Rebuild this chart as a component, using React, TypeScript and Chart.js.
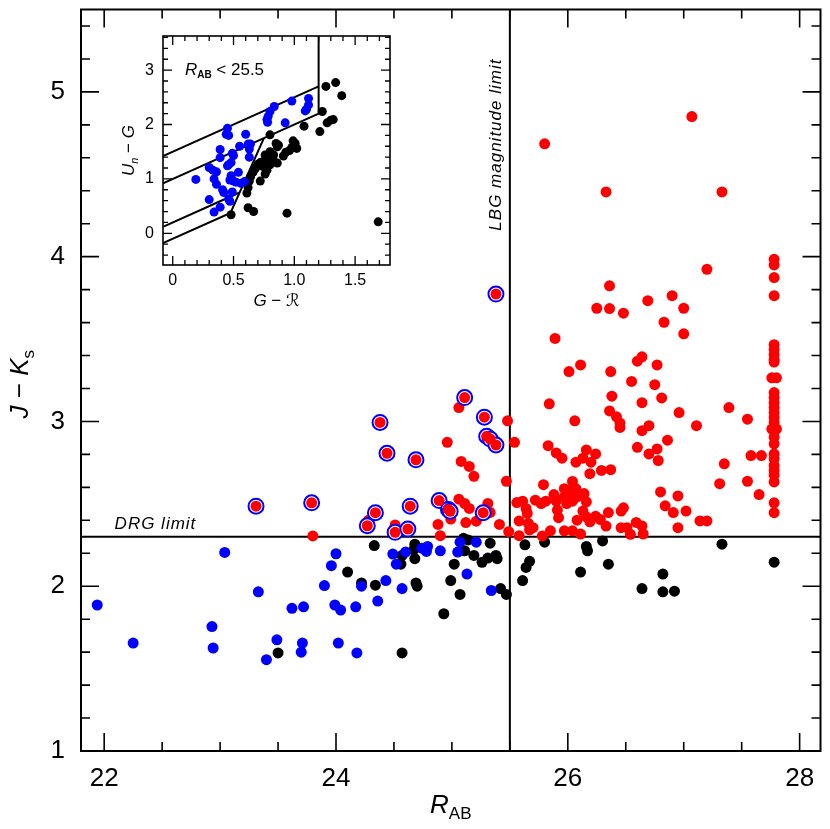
import React, { useEffect, useRef } from 'react';
import { Chart, registerables } from 'chart.js';

Chart.register(...registerables);

const FONT = '"Liberation Sans", Arial, "DejaVu Sans", sans-serif';

// ===== main panel =====
const xTickValues = [22, 24, 26, 28];
const yTickValues = [1, 2, 3, 4, 5];
const drgLimit = 2.3;
const lbgLimit = 25.5;

const blackPoints: [number, number][] = [
  [23.50, 1.595], [24.10, 2.086], [25.10, 2.291], [25.14, 2.281], [25.33, 2.261], [24.33, 2.247],
  [24.68, 2.255], [24.67, 2.221], [24.68, 2.167], [24.57, 2.187], [24.56, 2.134], [25.11, 2.215],
  [25.19, 2.187], [25.26, 2.145], [25.31, 2.171], [25.38, 2.187], [25.39, 2.167], [25.02, 2.134],
  [25.63, 2.251], [25.67, 2.151], [25.64, 2.114], [25.61, 2.034], [24.22, 2.02], [24.34, 2.006],
  [24.69, 2.02], [24.70, 2.00], [24.99, 2.034], [25.07, 1.95], [25.42, 1.986], [25.47, 1.95],
  [24.93, 1.833], [24.57, 1.595], [25.80, 2.267], [26.16, 2.241], [26.17, 2.215], [26.30, 2.275],
  [26.11, 2.086], [26.35, 2.134], [26.82, 2.074], [27.33, 2.255], [27.78, 2.146], [26.64, 1.986],
  [26.82, 1.966], [26.92, 1.97],
];

const bluePoints: [number, number][] = [
  [21.94, 1.886], [22.25, 1.655], [22.93, 1.755], [22.94, 1.625], [23.04, 2.205], [23.33, 1.966],
  [23.40, 1.554], [23.49, 1.675], [23.62, 1.866], [23.72, 1.875], [23.71, 1.655], [23.70, 1.60],
  [23.90, 2.004], [23.96, 2.125], [24.00, 2.197], [23.99, 1.886], [24.04, 1.855], [24.02, 1.655],
  [24.17, 1.875], [24.18, 1.595], [24.49, 2.195], [24.52, 2.134], [24.60, 2.207], [24.74, 2.231],
  [24.79, 2.241], [24.78, 2.211], [24.90, 2.215], [25.05, 2.207], [25.07, 2.267], [25.21, 2.267],
  [25.13, 2.074], [24.43, 2.034], [24.22, 2.00], [24.57, 1.986], [24.36, 1.91], [25.34, 1.974],
];

const redPoints: [number, number][] = [
  [23.80, 2.305], [24.28, 2.40], [24.51, 2.372],
  [25.06, 3.084], [25.48, 3.004], [25.54, 2.873], [24.96, 2.873], [25.08, 2.757], [25.15, 2.727],
  [25.19, 2.667], [25.47, 2.637], [25.06, 2.528], [25.11, 2.502], [25.15, 2.472], [25.31, 2.502],
  [25.33, 2.448], [25.21, 2.395], [25.12, 2.386], [24.99, 2.408], [24.88, 2.375], [24.90, 2.307],
  [25.41, 2.375], [25.49, 2.331], [25.58, 2.307], [25.56, 2.508], [25.61, 2.516], [25.64, 2.472],
  [25.65, 2.442], [25.58, 2.396], [25.66, 2.381], [25.70, 2.355], [25.72, 2.522],
  [25.80, 4.685], [27.07, 4.85], [26.33, 4.393], [27.33, 4.393], [27.20, 3.923], [26.36, 3.823],
  [26.90, 3.763], [26.69, 3.733], [26.25, 3.687], [26.36, 3.685], [26.48, 3.657], [27.00, 3.687],
  [26.83, 3.602], [27.00, 3.532], [25.89, 3.504], [26.11, 3.343], [26.01, 3.303], [26.37, 3.303],
  [26.60, 3.366], [26.64, 3.392], [26.77, 3.343], [26.55, 3.243], [26.75, 3.223], [26.38, 3.153],
  [26.81, 3.143], [25.84, 3.107], [26.64, 3.114], [26.36, 3.064], [26.42, 3.028], [26.45, 2.99],
  [26.45, 2.964], [26.96, 3.054], [26.06, 3.004], [26.70, 2.974], [26.64, 2.944], [27.11, 2.974],
  [27.39, 3.084], [27.55, 3.014], [26.86, 2.886], [25.83, 2.853], [25.90, 2.809], [25.95, 2.777],
  [26.16, 2.827], [26.24, 2.803], [26.20, 2.753], [26.07, 2.753], [26.13, 2.777], [26.19, 2.683],
  [26.29, 2.703], [26.37, 2.707], [26.60, 2.843], [26.70, 2.803], [26.77, 2.833], [26.78, 2.763],
  [27.35, 2.743], [27.58, 2.793], [27.67, 2.793], [27.31, 2.622], [27.55, 2.637], [27.65, 2.556],
  [25.67, 2.342], [25.78, 2.305], [25.77, 2.502], [25.81, 2.516], [25.79, 2.616], [25.85, 2.336],
  [25.88, 2.556], [25.90, 2.516], [25.91, 2.462], [25.92, 2.416], [25.97, 2.592], [26.04, 2.636],
  [25.97, 2.542], [25.99, 2.502], [26.03, 2.562], [26.07, 2.592], [26.08, 2.542], [26.04, 2.516],
  [26.14, 2.562], [26.16, 2.512], [25.97, 2.336], [26.04, 2.336], [26.11, 2.317], [26.08, 2.401],
  [26.13, 2.456], [26.16, 2.421], [26.19, 2.391], [26.24, 2.425], [26.28, 2.405], [26.33, 2.365],
  [26.35, 2.447], [26.46, 2.456], [26.48, 2.476], [26.46, 2.355], [26.51, 2.355], [26.54, 2.315],
  [26.59, 2.387], [26.64, 2.365], [26.65, 2.317], [26.80, 2.572], [26.84, 2.488], [26.91, 2.447],
  [26.95, 2.548], [27.02, 2.456], [26.95, 2.355], [27.14, 2.396], [27.20, 2.396],
  [26.00, 2.58], [26.02, 2.53], [26.05, 2.60],
];

// the column of faint objects at R_AB = 27.8
const columnRedPoints: [number, number][] = [
  [27.78, 3.984], [27.78, 3.95], [27.78, 3.873], [27.78, 3.763], [27.78, 3.466], [27.78, 3.436],
  [27.78, 3.406], [27.78, 3.376], [27.78, 3.36], [27.76, 3.265], [27.80, 3.265], [27.78, 3.175],
  [27.78, 3.145], [27.78, 3.114], [27.78, 3.084], [27.78, 3.054], [27.78, 3.024], [27.78, 2.994],
  [27.76, 2.954], [27.80, 2.954], [27.78, 2.904], [27.78, 2.864], [27.78, 2.803], [27.78, 2.773],
  [27.78, 2.733], [27.78, 2.703], [27.78, 2.673], [27.78, 2.633], [27.78, 2.506], [27.78, 2.446],
];

// red objects that also satisfy the LBG colour criteria (ringed in blue)
const circledPoints: [number, number][] = [
  [23.31, 2.486], [23.79, 2.506], [25.11, 3.145], [25.28, 3.026], [24.38, 2.994], [25.30, 2.91],
  [25.33, 2.893], [25.38, 2.857], [24.44, 2.807], [24.69, 2.767], [24.89, 2.52], [24.97, 2.466],
  [24.985, 2.455], [25.27, 2.446], [24.64, 2.486], [24.34, 2.446], [24.27, 2.367], [24.51, 2.327],
  [24.62, 2.347], [25.38, 3.773],
];

// ===== inset panel =====
const insetXTicks = [0, 0.5, 1, 1.5];
const insetYTicks = [0, 1, 2, 3];

const insetBlue: [number, number][] = [
  [0.835, 2.33], [0.80, 2.24], [0.785, 2.15], [0.775, 2.09], [0.78, 2.04], [0.45, 1.93], [0.44, 1.82],
  [0.46, 1.80], [0.60, 1.82], [0.55, 1.60], [0.62, 1.64], [0.64, 1.64], [0.63, 1.55], [0.39, 1.54],
  [0.63, 1.40], [0.39, 1.39], [0.49, 1.47], [0.50, 1.43], [0.48, 1.30], [0.46, 1.26], [0.45, 1.24],
  [0.30, 1.21], [0.33, 1.16], [0.36, 1.13], [0.19, 0.99], [0.34, 1.00], [0.36, 0.90], [0.48, 1.06],
  [0.47, 0.98], [0.50, 0.96], [0.52, 0.94], [0.56, 0.92], [0.59, 0.95], [0.54, 1.12], [0.41, 0.80],
  [0.42, 0.75], [0.49, 0.76], [0.30, 0.62], [0.46, 0.63], [0.47, 0.59], [0.39, 0.48], [0.34, 0.39],
  [0.98, 2.43], [1.117, 2.48], [1.117, 2.36], [1.10, 2.28], [1.09, 2.25], [0.925, 2.03],
];

const insetBlack: [number, number][] = [
  [0.80, 1.81], [0.85, 1.65], [0.87, 1.62], [0.86, 1.59], [0.80, 1.50], [0.83, 1.44], [0.76, 1.44],
  [0.78, 1.37], [0.75, 1.33], [0.72, 1.30], [0.70, 1.27], [0.68, 1.19], [0.66, 1.12], [0.64, 1.04],
  [0.63, 0.96], [0.72, 0.96], [0.62, 0.84], [0.61, 0.74], [0.80, 1.26], [0.86, 1.29], [0.83, 1.33],
  [0.74, 1.23], [0.775, 1.16], [0.76, 1.09], [0.62, 0.47], [0.665, 0.40], [0.48, 0.34], [1.26, 2.70],
  [1.34, 2.77], [1.39, 2.53], [1.23, 2.24], [1.21, 1.87], [1.27, 2.03], [1.30, 2.08], [1.32, 2.09],
  [1.08, 1.97], [0.99, 1.70], [1.007, 1.65], [1.02, 1.56], [0.98, 1.58], [0.96, 1.52], [0.93, 1.49],
  [0.91, 1.42], [0.94, 0.37], [1.69, 0.21],
];

// colour-selection boundaries (G-R, Un-G vertices)
const lbgUpperLine: [number, number][] = [[-0.08, 1.42], [1.2, 2.7]];
const lbgLowerLine: [number, number][] = [[-0.08, 0.92], [1.2, 2.2], [1.2, 3.627]];
const bxLine: [number, number][] = [[-0.08, 0.12], [0.55, 0.75]];
const bmLine: [number, number][] = [[-0.08, -0.18], [0.475, 0.375], [0.75, 1.75]];

const toXY = (arr: [number, number][]) => arr.map(([x, y]) => ({ x, y }));

type Part = { t: string; font: string; dy?: number };
function richWidth(ctx: CanvasRenderingContext2D, parts: Part[]) {
  let w = 0;
  for (const p of parts) {
    ctx.font = p.font;
    w += ctx.measureText(p.t).width;
  }
  return w;
}
function drawRich(ctx: CanvasRenderingContext2D, parts: Part[], x: number, y: number, align: 'left' | 'center') {
  ctx.textAlign = 'left';
  ctx.textBaseline = 'alphabetic';
  let cx = align === 'center' ? x - richWidth(ctx, parts) / 2 : x;
  for (const p of parts) {
    ctx.font = p.font;
    ctx.fillText(p.t, cx, y + (p.dy || 0));
    cx += ctx.measureText(p.t).width;
  }
}

function drawTicks(
  ctx: CanvasRenderingContext2D, chart: any,
  xk: [number, number, number, number], yk: [number, number, number, number],
  majorLen: number, minorLen: number,
) {
  const a = chart.chartArea;
  const { x, y } = chart.scales;
  ctx.beginPath();
  // [kFrom, kTo, divisor, majorEvery]
  for (let k = xk[0]; k <= xk[1]; k++) {
    const px = x.getPixelForValue(k / xk[2]);
    const len = k % xk[3] === 0 ? majorLen : minorLen;
    ctx.moveTo(px, a.bottom); ctx.lineTo(px, a.bottom - len);
    ctx.moveTo(px, a.top); ctx.lineTo(px, a.top + len);
  }
  for (let k = yk[0]; k <= yk[1]; k++) {
    const py = y.getPixelForValue(k / yk[2]);
    const len = k % yk[3] === 0 ? majorLen : minorLen;
    ctx.moveTo(a.left, py); ctx.lineTo(a.left + len, py);
    ctx.moveTo(a.right, py); ctx.lineTo(a.right - len, py);
  }
  ctx.stroke();
}

const mainDecor = {
  id: 'mainDecor',
  afterDraw(chart: any) {
    const { ctx, chartArea: a, scales } = chart;
    const { x, y } = scales;
    ctx.save();
    ctx.strokeStyle = '#000';
    ctx.fillStyle = '#000';
    ctx.lineWidth = 2;
    ctx.strokeRect(a.left, a.top, a.right - a.left, a.bottom - a.top);
    ctx.lineWidth = 1.6;
    drawTicks(ctx, chart, [44, 56, 2, 4], [5, 27, 5, 5], 18, 9);

    // DRG limit label
    (ctx as any).letterSpacing = '1px';
    drawRich(ctx, [{ t: 'DRG limit', font: `italic 17px ${FONT}` }], x.getPixelForValue(22.09), y.getPixelForValue(drgLimit) - 8, 'left');

    // LBG magnitude limit (vertical)
    ctx.save();
    ctx.translate(x.getPixelForValue(lbgLimit) - 9, y.getPixelForValue(4.68));
    ctx.rotate(-Math.PI / 2);
    (ctx as any).letterSpacing = '1px';
    drawRich(ctx, [{ t: 'LBG magnitude limit', font: `italic 17px ${FONT}` }], 0, 0, 'center');
    ctx.restore();

    // axis titles
    (ctx as any).letterSpacing = '0px';
    drawRich(ctx, [
      { t: 'R', font: `italic 26px ${FONT}` },
      { t: 'AB', font: `17px ${FONT}`, dy: 6 },
    ], (a.left + a.right) / 2, 813, 'center');

    ctx.save();
    ctx.translate(28, (a.top + a.bottom) / 2 + 4);
    ctx.rotate(-Math.PI / 2);
    drawRich(ctx, [
      { t: 'J', font: `italic 26px ${FONT}` },
      { t: ' \u2212 ', font: `26px ${FONT}` },
      { t: 'K', font: `italic 26px ${FONT}` },
      { t: 's', font: `17px ${FONT}`, dy: 6 },
    ], 0, 0, 'center');
    ctx.restore();
    ctx.restore();
  },
};

const insetDecor = {
  id: 'insetDecor',
  afterDraw(chart: any) {
    const { ctx, chartArea: a, scales } = chart;
    const { x, y } = scales;
    ctx.save();
    ctx.strokeStyle = '#000';
    ctx.fillStyle = '#000';
    ctx.lineWidth = 1.6;
    ctx.strokeRect(a.left, a.top, a.right - a.left, a.bottom - a.top);
    ctx.lineWidth = 1.3;
    drawTicks(ctx, chart, [0, 17, 10, 5], [-2, 18, 5, 5], 9, 5);

    drawRich(ctx, [
      { t: 'R', font: `italic 17px ${FONT}` },
      { t: 'AB', font: `bold 10px ${FONT}`, dy: 3 },
      { t: ' < 25.5', font: `17px ${FONT}` },
    ], x.getPixelForValue(0.1), y.getPixelForValue(2.91), 'left');

    drawRich(ctx, [
      { t: 'G', font: `italic 17px ${FONT}` },
      { t: ' \u2212 ', font: `17px ${FONT}` },
      { t: '\u211B', font: `italic 17px ${FONT}` },
    ], (a.left + a.right) / 2, 286, 'center');

    ctx.save();
    ctx.translate(a.left - 29, (a.top + a.bottom) / 2);
    ctx.rotate(-Math.PI / 2);
    drawRich(ctx, [
      { t: 'U', font: `italic 17px ${FONT}` },
      { t: 'n', font: `italic 11px ${FONT}`, dy: 4 },
      { t: ' \u2212 ', font: `17px ${FONT}` },
      { t: 'G', font: `italic 17px ${FONT}` },
    ], 0, 0, 'center');
    ctx.restore();
    ctx.restore();
  },
};

const lineDs = (pts: [number, number][], width: number) => ({
  data: toXY(pts),
  showLine: true,
  borderColor: '#000',
  borderWidth: width,
  pointRadius: 0,
  fill: false,
});

const dotDs = (pts: [number, number][], color: string, r: number) => ({
  data: toXY(pts),
  backgroundColor: color,
  borderWidth: 0,
  pointRadius: r,
  pointHoverRadius: r,
});

const noPadX = (h: number) => (s: any) => {
  s.height = h;
  s.paddingLeft = 0; s.paddingRight = 0; s.paddingTop = 0; s.paddingBottom = 0;
};
const noPadY = (w: number) => (s: any) => {
  s.width = w;
  s.paddingLeft = 0; s.paddingRight = 0; s.paddingTop = 0; s.paddingBottom = 0;
};

export default function App() {
  const mainRef = useRef<HTMLCanvasElement>(null);
  const insetRef = useRef<HTMLCanvasElement>(null);

  useEffect(() => {
    document.body.style.margin = '0';
    const tickFont = { family: FONT, size: 26 };
    const main = new Chart(mainRef.current!, {
      type: 'scatter',
      data: {
        datasets: [
          dotDs(circledPoints, '#ff0000', 5.5),
          {
            data: toXY(circledPoints),
            backgroundColor: '#ffffff',
            borderColor: '#0000ff',
            borderWidth: 2,
            pointRadius: 7.5,
            pointHoverRadius: 7.5,
          },
          dotDs(redPoints, '#ff0000', 5.5),
          dotDs(columnRedPoints, '#ff0000', 5.5),
          dotDs(bluePoints, '#0000ff', 5.5),
          dotDs(blackPoints, '#000000', 5.5),
          lineDs([[21.8, drgLimit], [28.18, drgLimit]], 2),
          lineDs([[lbgLimit, 1], [lbgLimit, 5.5]], 2),
        ] as any,
      },
      options: {
        animation: false,
        responsive: false,
        events: [],
        layout: { padding: { top: 5, right: 4, left: 0, bottom: 0 } },
        plugins: { legend: { display: false }, tooltip: { enabled: false } },
        scales: {
          x: {
            type: 'linear',
            min: 21.8,
            max: 28.18,
            grid: { display: false, drawTicks: false },
            border: { display: false },
            ticks: { font: tickFont, color: '#000', padding: 12, maxRotation: 0, autoSkip: false },
            afterBuildTicks: (s: any) => { s.ticks = xTickValues.map((v) => ({ value: v })); },
            afterFit: noPadX(78),
          },
          y: {
            type: 'linear',
            min: 1,
            max: 5.5,
            grid: { display: false, drawTicks: false },
            border: { display: false },
            ticks: { font: tickFont, color: '#000', padding: 16, autoSkip: false },
            afterBuildTicks: (s: any) => { s.ticks = yTickValues.map((v) => ({ value: v })); },
            afterFit: noPadY(81),
          },
        },
      } as any,
      plugins: [mainDecor],
    });

    const insetFont = { family: FONT, size: 16 };
    const inset = new Chart(insetRef.current!, {
      type: 'scatter',
      data: {
        datasets: [
          dotDs(insetBlue, '#0000ff', 4.5),
          dotDs(insetBlack, '#000000', 4.5),
          lineDs(lbgUpperLine, 2),
          lineDs(lbgLowerLine, 2),
          lineDs(bxLine, 2),
          lineDs(bmLine, 2),
        ] as any,
      },
      options: {
        animation: false,
        responsive: false,
        events: [],
        layout: { padding: { top: 16, right: 10, left: 0, bottom: 0 } },
        plugins: { legend: { display: false }, tooltip: { enabled: false } },
        scales: {
          x: {
            type: 'linear',
            min: -0.08,
            max: 1.787,
            grid: { display: false, drawTicks: false },
            border: { display: false },
            ticks: { font: insetFont, color: '#000', padding: 6, maxRotation: 0, autoSkip: false },
            afterBuildTicks: (s: any) => { s.ticks = insetXTicks.map((v) => ({ value: v })); },
            afterFit: noPadX(55),
          },
          y: {
            type: 'linear',
            min: -0.583,
            max: 3.627,
            grid: { display: false, drawTicks: false },
            border: { display: false },
            ticks: { font: insetFont, color: '#000', padding: 9, autoSkip: false },
            afterBuildTicks: (s: any) => { s.ticks = insetYTicks.map((v) => ({ value: v })); },
            afterFit: noPadY(63),
          },
        },
      } as any,
      plugins: [insetDecor],
    });

    return () => {
      main.destroy();
      inset.destroy();
    };
  }, []);

  return (
    <div style={{ position: 'absolute', left: 0, top: 0, width: 830, height: 829, background: '#ffffff' }}>
      <canvas ref={mainRef} width={830} height={829} style={{ position: 'absolute', left: 0, top: 0, width: 830, height: 829 }} />
      <canvas ref={insetRef} width={300} height={300} style={{ position: 'absolute', left: 100, top: 20, width: 300, height: 300 }} />
    </div>
  );
}
